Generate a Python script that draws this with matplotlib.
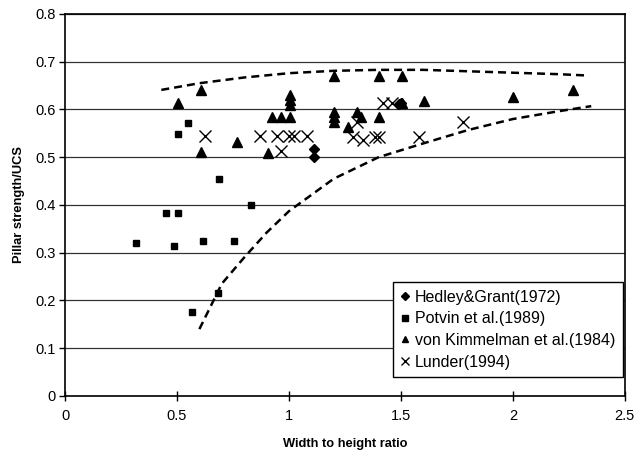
import matplotlib.pyplot as plt

plt.rcParams['font.family'] = ['Liberation Sans', 'DejaVu Sans']

# Hedley & Grant (1972)
hg_x = [1.11, 1.11, 1.49, 1.50]
hg_y = [0.517, 0.501, 0.611, 0.613]

# Potvin et al. (1989)
pot_x = [0.317, 0.453, 0.504, 0.488, 0.551, 0.503, 0.568, 0.617, 0.685, 0.686, 0.753, 0.832]
pot_y = [0.321, 0.383, 0.383, 0.314, 0.572, 0.548, 0.176, 0.325, 0.216, 0.455, 0.325, 0.401]

# von Kimmelman et al. (1984)
vk_x = [0.505, 0.609, 0.609, 0.766, 0.905, 0.924, 0.963, 1.004, 1.004, 1.004, 1.004,
        1.2, 1.2, 1.2, 1.2, 1.265, 1.302, 1.32, 1.403, 1.403, 1.503, 1.503, 1.603,
        2.001, 2.27]
vk_y = [0.614, 0.64, 0.51, 0.531, 0.508, 0.585, 0.585, 0.585, 0.61, 0.62, 0.63,
        0.67, 0.595, 0.584, 0.574, 0.564, 0.595, 0.585, 0.67, 0.585, 0.67, 0.613, 0.617,
        0.627, 0.64]

# Lunder (1994)
lu_x = [0.625, 0.872, 0.945, 1.001, 1.024, 1.082, 0.963, 1.287, 1.305, 1.329,
        1.384, 1.40, 1.42, 1.46, 1.582, 1.778]
lu_y = [0.545, 0.545, 0.545, 0.545, 0.545, 0.545, 0.513, 0.543, 0.574, 0.536,
        0.543, 0.543, 0.613, 0.613, 0.543, 0.574]

# dashed envelope curves
up_x = [0.43, 0.6, 0.8, 1.0, 1.2, 1.4, 1.6, 1.8, 2.0, 2.2, 2.34]
up_y = [0.641, 0.655, 0.667, 0.676, 0.681, 0.683, 0.683, 0.68, 0.677, 0.674, 0.671]
lo_x = [0.6, 0.7, 0.8, 0.9, 1.0, 1.2, 1.4, 1.6, 1.8, 2.0, 2.2, 2.35]
lo_y = [0.14, 0.235, 0.29, 0.342, 0.387, 0.455, 0.5, 0.529, 0.557, 0.58, 0.596, 0.607]

fig = plt.figure(figsize=(6.35, 4.54), dpi=100)
ax = fig.add_axes([0.1024, 0.1278, 0.8816, 0.8414])

ax.plot(up_x, up_y, color='black', lw=1.8, dashes=[3.2, 2])
ax.plot(lo_x, lo_y, color='black', lw=1.8, dashes=[3.2, 2])

ax.plot(hg_x, hg_y, 'D', color='black', ms=5, ls='none', label='Hedley&Grant(1972)')
ax.plot(pot_x, pot_y, 's', color='black', ms=5, ls='none', label='Potvin et al.(1989)')
ax.plot(vk_x, vk_y, '^', color='black', ms=6.5, ls='none', label='von Kimmelman et al.(1984)')
ax.plot(lu_x, lu_y, 'x', color='black', ms=8, mew=1.0, ls='none', label='Lunder(1994)')

ax.set_xlim(0, 2.5)
ax.set_ylim(0, 0.8)
ax.set_xticks([0, 0.5, 1, 1.5, 2, 2.5])
ax.set_xticklabels(['0', '0.5', '1', '1.5', '2', '2.5'])
ax.set_yticks([0, 0.1, 0.2, 0.3, 0.4, 0.5, 0.6, 0.7, 0.8])
ax.set_yticklabels(['0', '0.1', '0.2', '0.3', '0.4', '0.5', '0.6', '0.7', '0.8'])
ax.tick_params(axis='x', direction='inout', length=7, labelsize=10.5, pad=6, width=1)
ax.tick_params(axis='y', direction='out', length=4, labelsize=10.5, pad=3, width=1)
ax.yaxis.grid(True, color='#333333', lw=0.9)
ax.set_axisbelow(True)
for s in ax.spines.values():
    s.set_linewidth(1.2)

ax.set_xlabel('Width to height ratio', fontsize=9.3, fontweight='bold', labelpad=11)
ax.set_ylabel('Pillar strength/UCS', fontsize=9.3, fontweight='bold', labelpad=7)

leg = ax.legend(loc='lower right', bbox_to_anchor=(0.996, 0.05), borderaxespad=0,
                fontsize=11.5, frameon=True, fancybox=False, framealpha=1,
                edgecolor='black', handlelength=0.6, handletextpad=0.3,
                labelspacing=0.42, borderpad=0.45, markerscale=0.75)
leg.get_frame().set_linewidth(1.0)

fig.savefig('out.png', dpi=100)
